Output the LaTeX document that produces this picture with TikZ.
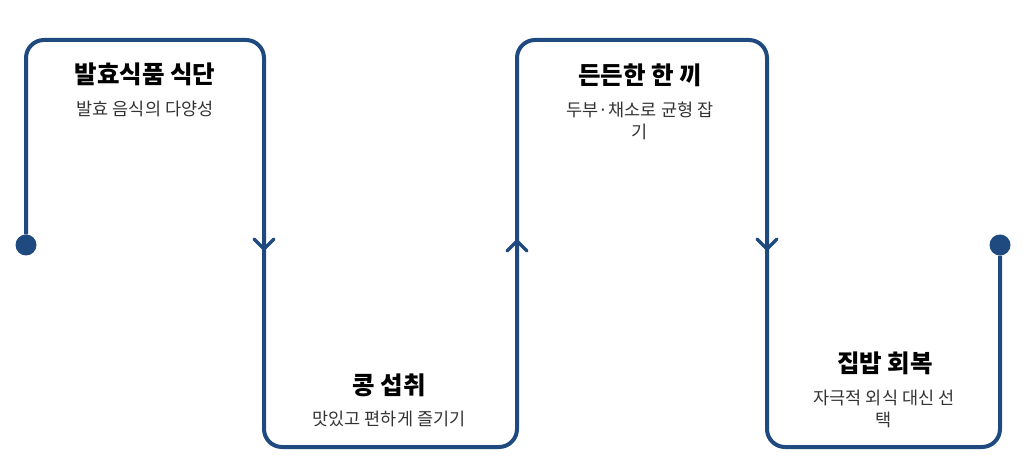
\documentclass[tikz,border=0pt]{standalone}
\usepackage{fontspec}
\setmainfont{Noto Sans CJK KR}
\definecolor{navy}{RGB}{31,74,127}
\definecolor{subgray}{RGB}{51,51,51}
\tikzset{
  flow/.style={draw=navy, line width=4pt, rounded corners=18pt},
  chev/.style={draw=navy, line width=3.2pt, line cap=round, line join=miter},
  dot/.style={circle, fill=navy, inner sep=0pt, minimum size=21pt},
  ttl/.style={font=\fontsize{24.5}{28}\selectfont\bfseries, text=black, inner sep=0pt, anchor=center},
  sub/.style={font=\fontsize{17.5}{21.5}\selectfont, text=subgray, inner sep=0pt, align=center, anchor=center}
}
\begin{document}
\begin{tikzpicture}[x=1pt,y=-1pt]
\useasboundingbox (0,0) rectangle (1026,462);
% end dots
\node[dot] (start) at (26,245) {};
\node[dot] (end) at (1000,245) {};
% corner coordinates
\coordinate (c1) at (26,40);
\coordinate (c2) at (264,40);
\coordinate (c3) at (264,447);
\coordinate (c4) at (517,447);
\coordinate (c5) at (517,40);
\coordinate (c6) at (767,40);
\coordinate (c7) at (767,447);
\coordinate (c8) at (1000,447);
\draw[flow] (start) -- (c1) -- (c2) -- (c3) -- (c4) -- (c5) -- (c6) -- (c7) -- (c8) -- (end);
% chevrons
\coordinate (a1) at (264,249);
\coordinate (a2) at (517,241);
\coordinate (a3) at (767,249);
\draw[chev] ([shift={(-10,-10)}]a1) -- (a1) -- ([shift={(10,-10)}]a1);
\draw[chev] ([shift={(-10,10)}]a2) -- (a2) -- ([shift={(10,10)}]a2);
\draw[chev] ([shift={(-10,-10)}]a3) -- (a3) -- ([shift={(10,-10)}]a3);
% texts
\node[ttl] (t1) at (145,74) {발효식품 식단};
\node[sub] (s1) at (145,109) {발효 음식의 다양성};
\node[ttl] (t2) at (389,385) {콩 섭취};
\node[sub] (s2) at (389,419) {맛있고 편하게 즐기기};
\node[ttl] (t3) at (640,75) {든든한 한 끼};
\node[sub] (s3) at (640,121) {두부·채소로 균형 잡\\기};
\node[ttl] (t4) at (885,363) {집밥 회복};
\node[sub] (s4) at (884,409) {자극적 외식 대신 선\\택};
\end{tikzpicture}
\end{document}
